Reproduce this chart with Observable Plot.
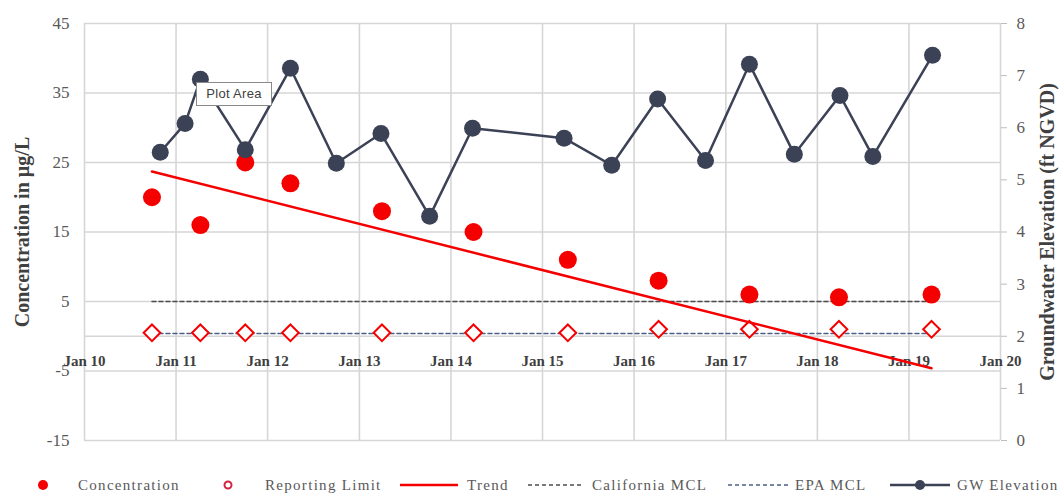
<!DOCTYPE html>
<html>
<head>
<meta charset="utf-8">
<script src="https://cdn.jsdelivr.net/npm/d3@7"></script>
<script src="https://cdn.jsdelivr.net/npm/@observablehq/plot@0.6"></script>
<style>
  html, body { margin: 0; padding: 0; background: #fff; }
  #wrap { position: relative; width: 1062px; height: 493px; overflow: hidden; background: #fff; }
  #chart svg { display: block; }
  .leg { position: absolute; top: 474px; height: 22px; font-family: "Liberation Serif", serif; font-size: 15px; letter-spacing: 1.3px; color: #595959; line-height: 22px; white-space: nowrap; }
  .legsym { position: absolute; top: 474px; }
  #tipbox { position: absolute; left: 196px; top: 82px; width: 74px; height: 22px; border: 1px solid #8a8a8a; background: #fff; font-family: "Liberation Sans", sans-serif; font-size: 13px; color: #404040; line-height: 22px; text-align: center; letter-spacing: 0.3px; }
</style>
</head>
<body>
<div id="wrap">
  <div id="chart"></div>
  <div id="legend"></div>
  <div id="tipbox">Plot Area</div>
</div>
<script>
// ---- Data ----
const concDates = ["2010-09-27","2011-04-08","2011-10-04","2012-04-01","2013-04-01","2014-04-01","2015-04-12","2016-04-08","2017-04-05","2018-03-28","2019-04-01"];
const concValues = [20, 16, 25, 22, 18, 15, 11, 8, 6, 5.6, 6];
const rlValues = [0.5, 0.5, 0.5, 0.5, 0.5, 0.5, 0.5, 1, 1, 1, 1];

const gwDates = ["2010-10-30","2011-02-06","2011-04-08","2011-10-04","2012-04-01","2012-10-01","2013-03-28","2013-10-08","2014-03-28","2015-03-28","2015-10-04","2016-04-04","2016-10-12","2017-04-05","2017-10-01","2018-04-01","2018-08-10","2019-04-05"];
const gwValues = [5.53, 6.08, 6.93, 5.58, 7.14, 5.32, 5.89, 4.30, 5.99, 5.80, 5.28, 6.55, 5.37, 7.22, 5.49, 6.62, 5.45, 7.39];

const trendDates = ["2010-09-27","2019-04-01"];
const trendValues = [23.7, -4.6];

const mclDates = ["2010-09-27","2019-04-01"];
const calMclValues = [5, 5];
const epaMclValues = [0.4, 0.4];

const yearTickDates = ["2010-01-01","2011-01-01","2012-01-01","2013-01-01","2014-01-01","2015-01-01","2016-01-01","2017-01-01","2018-01-01","2019-01-01","2020-01-01"];
const yearTickLabels = ["Jan 10","Jan 11","Jan 12","Jan 13","Jan 14","Jan 15","Jan 16","Jan 17","Jan 18","Jan 19","Jan 20"];
const leftTicks = [45, 35, 25, 15, 5, -5, -15];
const rightTicks = [0, 1, 2, 3, 4, 5, 6, 7, 8];

const leftDomain = [-15, 45];
const rightDomain = [0, 8];

const leftTitle = "Concentration in µg/L";
const rightTitle = "Groundwater Elevation (ft NGVD)";

const legendLabels = ["Concentration", "Reporting Limit", "Trend", "California MCL", "EPA MCL", "GW Elevation"];

// ---- Build ----
const P = d3.isoParse;
const toLeft = v => leftDomain[0] + (v - rightDomain[0]) * (leftDomain[1] - leftDomain[0]) / (rightDomain[1] - rightDomain[0]);
const fromLeft = v => rightDomain[0] + (v - leftDomain[0]) * (rightDomain[1] - rightDomain[0]) / (leftDomain[1] - leftDomain[0]);

const conc = concDates.map((d, i) => ({date: P(d), value: concValues[i], rl: rlValues[i]}));
const gw = gwDates.map((d, i) => ({date: P(d), value: gwValues[i]}));
const trend = trendDates.map((d, i) => ({date: P(d), value: trendValues[i]}));
const cal = mclDates.map((d, i) => ({date: P(d), value: calMclValues[i]}));
const epa = mclDates.map((d, i) => ({date: P(d), value: epaMclValues[i]}));
const years = yearTickDates.map((d, i) => ({date: P(d), label: yearTickLabels[i]}));

const RED = "#f50000";
const NAVY = "#3b4255";
const GRID = "#d6d6d6";

const chart = Plot.plot({
  width: 1062,
  height: 462,
  marginLeft: 84,
  marginRight: 62,
  marginTop: 23,
  marginBottom: 22,
  style: {fontFamily: "Liberation Serif, serif", background: "transparent", overflow: "visible"},
  x: {type: "utc", axis: null, domain: [P(yearTickDates[0]), P(yearTickDates[yearTickDates.length - 1])]},
  y: {domain: leftDomain},
  marks: [
    Plot.gridY(leftTicks, {stroke: GRID, strokeOpacity: 1, strokeWidth: 1.6}),
    Plot.gridX(years.map(d => d.date), {stroke: GRID, strokeOpacity: 1, strokeWidth: 1.6}),
    Plot.ruleY([0], {stroke: GRID, strokeWidth: 1.6}),
    Plot.axisY(leftTicks, {anchor: "left", tickSize: 0, tickPadding: 15, fontSize: 17, fill: "#595959", label: null, tickFormat: d => String(d), style: {letterSpacing: "1.5px"}}),
    Plot.axisY(rightTicks.map(toLeft), {anchor: "right", tickSize: 6, tickPadding: 10, stroke: "#bdbdbd", fill: "#595959", fontSize: 17, label: null, tickFormat: d => String(Math.round(fromLeft(d)))}),
    Plot.text(years, {x: "date", y: () => 0, text: "label", dy: 25, fontSize: 15, fontWeight: "bold", fill: "#3f3f3f", style: {letterSpacing: "2.5px"}}),
    Plot.text([leftTitle], {frameAnchor: "left", textAnchor: "middle", text: d => d, rotate: -90, dx: -62, fontSize: 20, fontWeight: "bold", fill: "#404040"}),
    Plot.text([rightTitle], {frameAnchor: "right", textAnchor: "middle", text: d => d, rotate: -90, dx: 47, fontSize: 20, fontWeight: "bold", fill: "#404040"}),
    Plot.line(cal, {x: "date", y: "value", stroke: "#4d4d4d", strokeWidth: 1.5, strokeDasharray: "4,3"}),
    Plot.line(epa, {x: "date", y: "value", stroke: "#4c5f88", strokeWidth: 1.5, strokeDasharray: "4,3"}),
    Plot.dot(conc, {x: "date", y: "rl", symbol: "diamond2", r: 7.5, stroke: RED, strokeWidth: 2, fill: "white"}),
    Plot.dot(conc, {x: "date", y: "value", r: 9, fill: RED, stroke: "none"}),
    Plot.line(trend, {x: "date", y: "value", stroke: RED, strokeWidth: 2.5}),
    Plot.line(gw, {x: "date", y: d => toLeft(d.value), stroke: NAVY, strokeWidth: 2.5}),
    Plot.dot(gw, {x: "date", y: d => toLeft(d.value), r: 8.5, fill: NAVY, stroke: "none"})
  ]
});
document.getElementById("chart").appendChild(chart);

// ---- Legend ----
const legend = document.getElementById("legend");
const svgNS = "http://www.w3.org/2000/svg";
function sym(left, width, draw) {
  const s = document.createElementNS(svgNS, "svg");
  s.setAttribute("width", width); s.setAttribute("height", 22);
  s.setAttribute("class", "legsym");
  s.style.left = left + "px";
  s.innerHTML = draw;
  legend.appendChild(s);
}
function label(left, text) {
  const d = document.createElement("div");
  d.className = "leg"; d.style.left = left + "px"; d.textContent = text;
  legend.appendChild(d);
}
sym(36, 16, `<circle cx="7" cy="11" r="5" fill="${RED}"/>`);
label(78, legendLabels[0]);
sym(221, 16, `<circle cx="7" cy="11" r="3.5" fill="white" stroke="#d2233c" stroke-width="2"/>`);
label(265, legendLabels[1]);
sym(400, 60, `<line x1="0" x2="58" y1="11" y2="11" stroke="${RED}" stroke-width="2.5"/>`);
label(467, legendLabels[2]);
sym(528, 60, `<line x1="0" x2="56" y1="11" y2="11" stroke="#4d4d4d" stroke-width="1.5" stroke-dasharray="4,3"/>`);
label(592, legendLabels[3]);
sym(728, 60, `<line x1="0" x2="60" y1="11" y2="11" stroke="#4c5f88" stroke-width="1.5" stroke-dasharray="4,3"/>`);
label(795, legendLabels[4]);
sym(890, 62, `<line x1="0" x2="60" y1="11" y2="11" stroke="${NAVY}" stroke-width="2.5"/><circle cx="30" cy="11" r="5" fill="${NAVY}"/>`);
label(957, legendLabels[5]);
</script>
</body>
</html>
